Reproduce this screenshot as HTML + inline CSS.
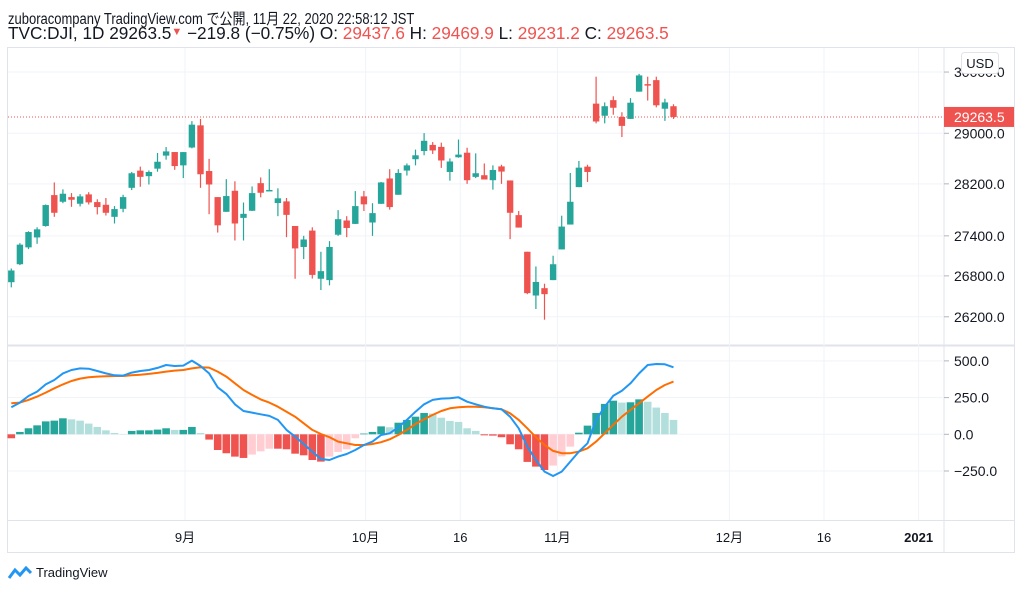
<!DOCTYPE html>
<html><head><meta charset="utf-8"><style>
body{margin:0;width:1024px;height:593px;background:#fff;overflow:hidden;font-family:"Liberation Sans","Noto Sans CJK JP",sans-serif;}
.hdr{position:absolute;left:8px;color:#131722;white-space:nowrap;}
.red{color:#ef5350}
</style></head><body>
<div class="hdr" style="top:6px;font-size:13px;transform:scaleY(1.2);transform-origin:left top">zuboracompany TradingView.com で公開, 11月 22, 2020 22:58:12 JST</div>
<div class="hdr" style="top:23px;font-size:17.2px">TVC:DJI, 1D 29263.5<span class="red" style="font-size:11px;vertical-align:4px">▼</span> −219.8 (−0.75%) O: <span class="red">29437.6</span> H: <span class="red">29469.9</span> L: <span class="red">29231.2</span> C: <span class="red">29263.5</span></div>
<svg id="chart" width="1024" height="593" style="position:absolute;left:0;top:0" font-family="Liberation Sans, Noto Sans CJK JP, sans-serif"></svg>
<div style="position:absolute;left:8px;top:565px;font-size:13px;color:#131722;display:flex;align-items:center;gap:4px">
<svg width="24" height="14" viewBox="0 0 24 14"><path d="M1 12 L7 4 L12 9 L18 2 L23 7" stroke="#2196f3" stroke-width="3" fill="none"/></svg>TradingView</div>
<script>
const opens=[26706,26973,27226,27376,27550,28025,27922,27994,27891,28036,27917,27875,27690,27813,28138,28407,28320,28438,28644,28701,28490,28773,29128,28401,27994,27767,28092,27674,27783,28211,28100,27902,27928,27550,27232,27480,26757,26737,27417,27634,27582,28005,27603,27890,28284,28030,28408,28587,28717,28814,28783,28386,28618,28690,28309,28335,28257,28474,28253,27716,27160,26510,26618,26737,27195,27572,28149,28470,29480,29283,29537,29263,29232,29676,29800,29866,29397,29437.6];
const closes=[26880,27267,27458,27499,27871,27752,28046,27953,28005,27912,27840,27752,27809,27994,28366,28309,28386,28547,28711,28479,28700,29139,28350,28190,27560,28010,27588,27736,28056,28061,28105,27975,27720,27210,27345,26814,26870,27232,27654,27520,27855,27882,27747,28222,27840,28370,28490,28649,28880,28726,28567,28551,28660,28257,28366,28268,28417,28392,27752,27526,26545,26710,26530,26973,27541,27922,28454,28386,29190,29438,29413,29119,29495,29944,29790,29453,29500,29263.5];
const highs=[26910,27290,27470,27530,27880,28222,28114,28056,28040,28070,27960,27980,27855,28030,28386,28470,28410,28686,28780,28701,28700,29196,29232,28593,27994,28273,28240,27910,28160,28300,28430,28130,27980,27550,27400,27530,27160,27320,27793,27700,28087,28090,27900,28230,28430,28430,28520,28740,29003,28860,28850,28600,28900,28770,28680,28520,28490,28500,28253,27780,27160,26940,26684,27100,27707,28370,28560,28500,29923,29500,29600,29340,29570,29970,29923,29923,29560,29469.9];
const lows=[26630,26960,27200,27280,27540,27690,27900,27844,27850,27880,27727,27710,27588,27760,28103,28155,28190,28390,28580,28420,28290,28760,28138,27730,27450,27767,27330,27330,27780,27990,28090,27700,27380,26757,27050,26760,26590,26660,27400,27380,27580,27780,27400,27890,27800,28030,28330,28490,28650,28670,28450,28250,28610,28200,28290,28268,28110,28200,27350,27526,26530,26313,26158,26737,27195,27572,28149,28230,29160,29160,29300,28940,29232,29676,29530,29420,29200,29231.2];
const macdVals=[184,216,261,291,340,370,415,438,449,447,431,415,402,400,420,431,438,452,472,465,468,502,465,415,320,275,204,159,148,136,125,98,30,-16,-66,-118,-168,-175,-152,-134,-107,-73,-50,-5,7,48,98,154,204,234,243,245,252,222,204,188,177,170,120,41,-84,-175,-254,-284,-254,-186,-118,-61,98,188,263,297,347,415,472,479,477,456];
const signalVals=[211,216,234,257,284,313,340,363,379,388,393,395,397,397,402,406,411,418,427,434,438,449,456,454,427,393,347,302,268,238,216,188,154,120,75,30,2,-20,-50,-61,-73,-73,-66,-54,-34,-5,30,70,102,132,159,177,184,188,188,184,177,170,143,98,41,-20,-73,-113,-129,-129,-118,-95,-50,7,64,120,166,211,257,302,336,359];
const histVals=[-27,16,41,61,88,93,109,102,93,73,50,27,9,2,23,27,27,32,41,30,30,50,9,-36,-107,-129,-152,-161,-138,-116,-98,-98,-102,-132,-143,-175,-186,-152,-120,-102,-27,5,16,54,48,79,98,120,145,141,113,91,84,41,23,-7,-9,-20,-68,-102,-188,-220,-243,-213,-150,-84,11,59,145,207,229,216,218,238,222,182,145,98];
const priceTicks=[30000,29000,28200,27400,26800,26200];
const macdTicks=[500,250,0,-250];
const dateLabels=["9月","10月","16","11月","12月","16","2021"];
const datePos=[20.2,41.2,52.2,63.5,83.5,94.5,105.5];

const svg=document.getElementById('chart');
const NS='http://www.w3.org/2000/svg';
function mk(t,a,p){const e=document.createElementNS(NS,t);for(const k in a)e.setAttribute(k,a[k]);(p||svg).appendChild(e);return e;}
const xOf=i=>11.3+i*8.6;
const yP=p=>133.3-Math.log(p/29000)*1807;
const yM=v=>434.3-v/6.81;
let f=mk('rect',{x:7.5,y:47.5,width:1007,height:505,fill:'none',stroke:'#e0e3eb'});

let sep=mk('line',{x1:944,x2:944,y1:47,y2:552,stroke:'#e0e3eb'});

let ps=mk('line',{x1:7,x2:1014,y1:345.5,y2:345.5,stroke:'#e0e3eb',"stroke-width":2});

let xb=mk('line',{x1:7,x2:1014,y1:520.5,y2:520.5,stroke:'#e0e3eb'});

priceTicks.forEach(p=>{const y=yP(p);
 const g=mk('line',{x1:8,x2:944,y1:y,y2:y,stroke:'#f0f3fa'});
 mk('line',{x1:944,x2:949,y1:y,y2:y,stroke:'#b2b5be'});
 const t=mk('text',{x:954,y:y+5,"font-size":14,fill:'#131722'});t.textContent=p.toFixed(1);
 });
macdTicks.forEach(v=>{const y=yM(v);
 const g=mk('line',{x1:8,x2:944,y1:y,y2:y,stroke:'#f0f3fa'});
 mk('line',{x1:944,x2:949,y1:y,y2:y,stroke:'#b2b5be'});
 const t=mk('text',{x:954,y:y+5,"font-size":14,fill:'#131722'});t.textContent=(v<0?'−'+(-v).toFixed(1):v.toFixed(1));
 });
dateLabels.forEach((l,k)=>{const x=xOf(datePos[k]);
 const g=mk('line',{x1:x,x2:x,y1:48,y2:520,stroke:'#f0f3fa'});
 const t=mk('text',{x:x,y:542,"font-size":13,fill:'#131722',"text-anchor":'middle',"font-weight":l==='2021'?'bold':'normal'});t.textContent=l;
 });
const ly=yP(closes[closes.length-1]);
const ll=mk('line',{x1:8,x2:944,y1:ly,y2:ly,stroke:'#ef5350',"stroke-dasharray":'1,2',"stroke-width":1});

opens.forEach((o,i)=>{const c=closes[i],x=xOf(i),up=c>=o,col=up?'#26a69a':'#ef5350';
 const g=mk('g',{});
 mk('line',{x1:x,x2:x,y1:yP(highs[i]),y2:yP(lows[i]),stroke:col,"stroke-width":1.2},g);
 const yt=Math.min(yP(o),yP(c)),h=Math.max(1.5,Math.abs(yP(o)-yP(c)));
 mk('rect',{x:x-3.2,y:yt,width:6.4,height:h,fill:col},g);});
histVals.forEach((v,i)=>{const prev=i?histVals[i-1]:0;let col;
 if(v>=0)col=v>=prev?'#26a69a':'#b2dfdb';else col=v<=prev?'#ef5350':'#ffcdd2';
 const y0=yM(0),y1=yM(v);
 const r=mk('rect',{x:xOf(i)-3.8,y:Math.min(y0,y1),width:7.6,height:Math.abs(y1-y0),fill:col});
 });
function line(vals,col,name){const d=vals.map((v,i)=>(i?'L':'M')+xOf(i).toFixed(1)+' '+yM(v).toFixed(1)).join(' ');
 const p=mk('path',{d:d,fill:'none',stroke:col,"stroke-width":2,"stroke-linejoin":'round'});
 }
line(signalVals,'#ff6d00','macd-signal-line');
line(macdVals,'#2196f3','macd-line');
const lb=mk('rect',{x:944,y:ly-10,width:70,height:20,fill:'#ef5350'});

const lt=mk('text',{x:954,y:ly+5,"font-size":14,fill:'#fff'});lt.textContent=closes[closes.length-1].toFixed(1);

const ub=mk('rect',{x:961.5,y:52.5,width:37,height:21,rx:3,fill:'#fff',stroke:'#e0e3eb'});

const ut=mk('text',{x:980,y:68,"font-size":13,fill:'#131722',"text-anchor":'middle'});ut.textContent='USD';

</script>
</body></html>
